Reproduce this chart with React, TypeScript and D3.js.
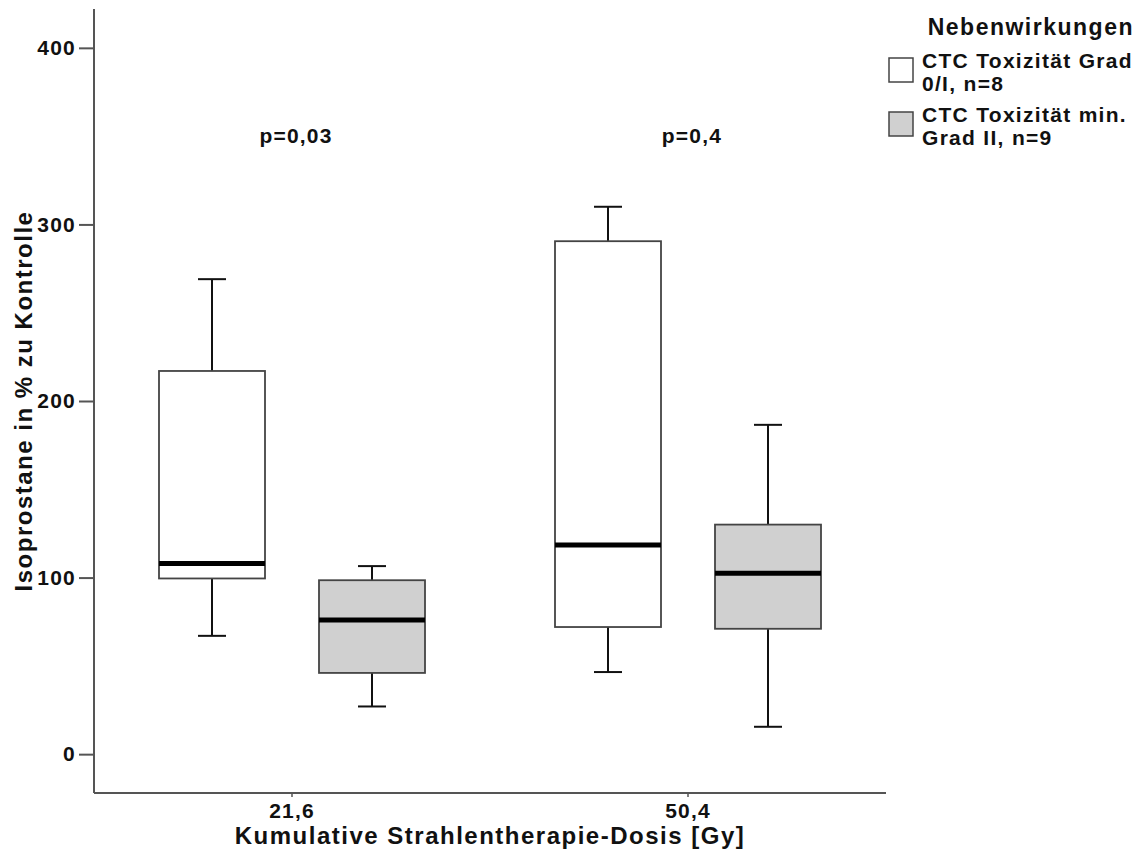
import React, { useEffect, useRef } from 'react';
import * as d3 from 'd3';

// Categories on the x axis
const doses = ['21,6', '50,4'];
// Series (legend entries)
const groups = ['g1', 'g2'];
const groupLabels = [
  ['CTC Toxizität Grad', '0/I, n=8'],
  ['CTC Toxizität min.', 'Grad II, n=9'],
];
const groupFill = ['#ffffff', '#d0d0d0'];

// Box statistics per dose, per group: [whiskerLow, q1, median, q3, whiskerHigh]
const stats21 = [
  [67, 99.5, 108, 217, 269],
  [27, 46, 76, 98.5, 106.5],
];
const stats50 = [
  [46.5, 72, 118.5, 290.5, 310],
  [15.5, 71, 102.5, 130, 186.5],
];
const pValues = ['p=0,03', 'p=0,4'];
const yTicks = [0, 100, 200, 300, 400];

const W = 1140;
const H = 852;

const App = () => {
  const ref = useRef(null);

  useEffect(() => {
    document.body.style.margin = '0';
    const svg = d3.select(ref.current);
    svg.selectAll('*').remove();

    const font = '"Liberation Sans", Arial, Helvetica, sans-serif';
    const left = 94, right = 886, top = 9, bottom = 793;

    const x = d3.scaleBand().domain(doses).range([left, right]).padding(0);
    const xInner = d3.scaleBand().domain(groups).range([38, 358]).padding(0);
    const y = d3.scaleLinear().domain([-22, 422]).range([bottom, top]);

    const g = svg.append('g').style('font-family', font).attr('fill', '#111');

    // Y axis
    const yAxis = g.append('g')
      .attr('transform', `translate(${left},0)`)
      .call(d3.axisLeft(y).tickValues(yTicks).tickSize(15).tickPadding(3).tickSizeOuter(0));
    yAxis.select('.domain').attr('stroke', '#555').attr('stroke-width', 2).attr('d', `M0,${top}V${bottom}`);
    yAxis.selectAll('.tick line').attr('stroke', '#555').attr('stroke-width', 2);
    yAxis.selectAll('.tick text')
      .style('font-family', font).style('font-size', '21px').style('font-weight', 'bold')
      .style('letter-spacing', '1.2px').attr('fill', '#111');

    // X axis
    const xAxis = g.append('g')
      .attr('transform', `translate(0,${bottom})`)
      .call(d3.axisBottom(x).tickSize(4).tickPadding(6).tickSizeOuter(0));
    xAxis.select('.domain').attr('stroke', '#555').attr('stroke-width', 2).attr('d', `M${left},0H${right}`);
    xAxis.selectAll('.tick line').attr('stroke', '#555').attr('stroke-width', 1.5);
    xAxis.selectAll('.tick text')
      .attr('dy', '0.71em')
      .style('font-family', font).style('font-size', '21px').style('font-weight', 'bold')
      .style('letter-spacing', '1.2px').attr('fill', '#111');

    // Boxes
    const allStats = [stats21, stats50];
    const boxW = 106;
    const capW = 28;
    doses.forEach((dose, di) => {
      groups.forEach((grp, gi) => {
        const [lo, q1, med, q3, hi] = allStats[di][gi];
        const cx = x(dose) + xInner(grp) + xInner.bandwidth() / 2;
        const bg = g.append('g');
        // whiskers
        bg.append('line').attr('x1', cx).attr('x2', cx).attr('y1', y(hi)).attr('y2', y(q3))
          .attr('stroke', '#111').attr('stroke-width', 2);
        bg.append('line').attr('x1', cx).attr('x2', cx).attr('y1', y(q1)).attr('y2', y(lo))
          .attr('stroke', '#111').attr('stroke-width', 2);
        bg.append('line').attr('x1', cx - capW / 2).attr('x2', cx + capW / 2).attr('y1', y(hi)).attr('y2', y(hi))
          .attr('stroke', '#111').attr('stroke-width', 2);
        bg.append('line').attr('x1', cx - capW / 2).attr('x2', cx + capW / 2).attr('y1', y(lo)).attr('y2', y(lo))
          .attr('stroke', '#111').attr('stroke-width', 2);
        // box
        bg.append('rect')
          .attr('x', cx - boxW / 2).attr('width', boxW)
          .attr('y', y(q3)).attr('height', y(q1) - y(q3))
          .attr('fill', groupFill[gi]).attr('stroke', '#444').attr('stroke-width', 1.8);
        // median
        bg.append('line').attr('x1', cx - boxW / 2).attr('x2', cx + boxW / 2).attr('y1', y(med)).attr('y2', y(med))
          .attr('stroke', '#000').attr('stroke-width', 5);
      });
      // p-value
      g.append('text')
        .attr('x', x(dose) + x.bandwidth() / 2 + 4).attr('y', 143)
        .attr('text-anchor', 'middle')
        .style('font-size', '21px').style('font-weight', 'bold').style('letter-spacing', '1.2px')
        .text(pValues[di]);
    });

    // Axis titles
    g.append('text')
      .attr('transform', `translate(32,${(top + bottom) / 2}) rotate(-90)`)
      .attr('text-anchor', 'middle')
      .style('font-size', '24px').style('font-weight', 'bold').style('letter-spacing', '1.5px')
      .text('Isoprostane in % zu Kontrolle');
    g.append('text')
      .attr('x', 490).attr('y', 844)
      .attr('text-anchor', 'middle')
      .style('font-size', '24px').style('font-weight', 'bold').style('letter-spacing', '1.5px')
      .text('Kumulative Strahlentherapie-Dosis [Gy]');

    // Legend
    const lg = g.append('g');
    lg.append('text')
      .attr('x', 1134).attr('y', 35).attr('text-anchor', 'end')
      .style('font-size', '23px').style('font-weight', 'bold').style('letter-spacing', '1.5px')
      .text('Nebenwirkungen');
    groups.forEach((grp, gi) => {
      const ty = 58 + gi * 54;
      lg.append('rect')
        .attr('x', 889).attr('y', ty).attr('width', 24).attr('height', 24)
        .attr('fill', groupFill[gi]).attr('stroke', '#444').attr('stroke-width', 1.5);
      groupLabels[gi].forEach((line, li) => {
        lg.append('text')
          .attr('x', 922).attr('y', ty + 10 + li * 23)
          .style('font-size', '21px').style('font-weight', 'bold').style('letter-spacing', '1.3px')
          .text(line);
      });
    });
  }, []);

  return <svg ref={ref} width={W} height={H} style={{ display: 'block', background: '#fff' }} />;
};

export default App;
